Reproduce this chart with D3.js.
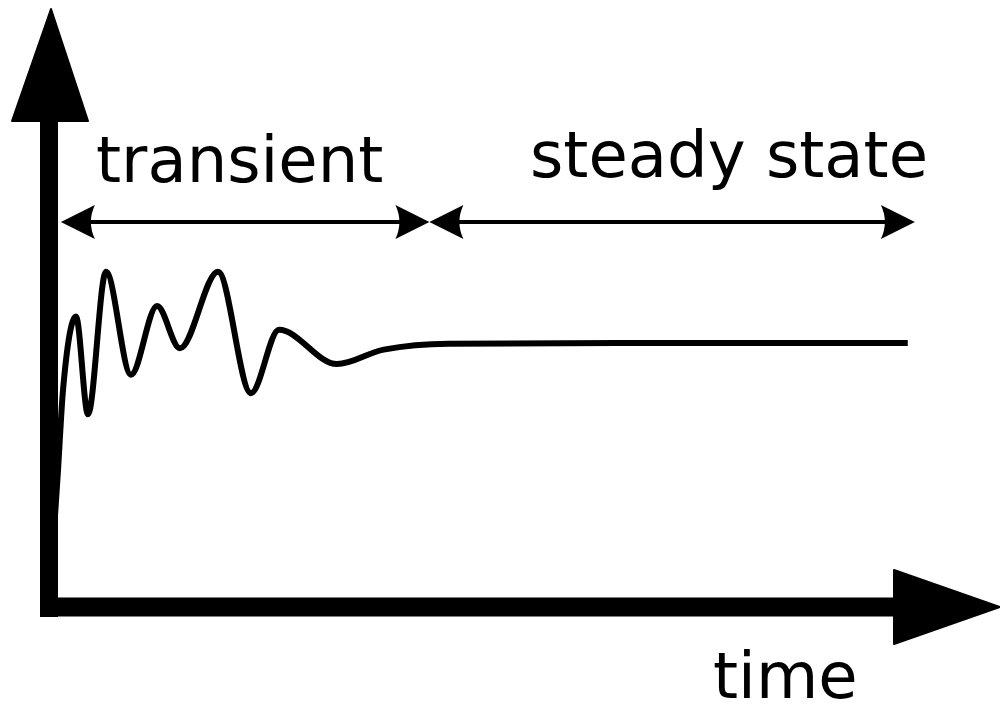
<!DOCTYPE html>
<html><head><meta charset="utf-8">
<script src="https://cdn.jsdelivr.net/npm/d3@7"></script>
<style>html,body{margin:0;padding:0;background:#fff;}svg{display:block;}</style>
</head><body>
<script>
// Data: step response (time units, normalized amplitude)
const times  = [0, 0.95, 1.47, 2.84, 4.10, 5.99, 8.62, 11.36, 13.77, 17.77, 21.24, 24.19, 30.28, 35.2, 42.0, 60.0, 90.3];
const values = [0, 0.52, 0.82, 1.10, 0.73, 1.27, 0.88, 1.14, 0.98, 1.27, 0.81, 1.05, 0.92, 0.975, 0.997, 1.0, 1.0];
const phases = ["transient", "steady state"];
const phaseBounds = [[1.25, 40.0], [40.0, 91.05]];
const axisLabel = "time";

const W = 1000, H = 704;
const svg = d3.select("body").append("svg").attr("width", W).attr("height", H);
const x = d3.scaleLinear().domain([0, 100]).range([49, 1000]);
const y = d3.scaleLinear().domain([0, 1]).range([607, 343]);

// response curve (drawn first, axis covers its start)
const line = d3.line().x((d, i) => x(times[i])).y(d => y(d)).curve(d3.curveMonotoneX);
svg.append("path").attr("d", line(values)).attr("fill", "none").attr("stroke", "#000")
  .attr("stroke-width", 6).attr("stroke-linejoin", "round");

// axes
svg.append("line").attr("x1", x(0)).attr("x2", x(0)).attr("y1", 118).attr("y2", y(0) + 10)
  .attr("stroke", "#000").attr("stroke-width", 18);
svg.append("line").attr("x1", x(0) - 9).attr("x2", 896).attr("y1", y(0)).attr("y2", y(0))
  .attr("stroke", "#000").attr("stroke-width", 19);
// arrowheads
svg.append("path").attr("d", `M${x(0)+2},9 L88,121 L12,121 Z`).attr("fill", "#000")
  .attr("stroke", "#000").attr("stroke-width", 2).attr("stroke-linejoin", "round");
svg.append("path").attr("d", `M${x(100)},${y(0)} L894,570 L894,644 Z`).attr("fill", "#000")
  .attr("stroke", "#000").attr("stroke-width", 2).attr("stroke-linejoin", "round");

// phase double arrows
const ay = 222;
function head(tx, dir) {
  const L = 34, h = 17, n = 26;
  return `M${tx},${ay} L${tx + dir*L},${ay-h} Q${tx + dir*n},${ay} ${tx + dir*L},${ay+h} Z`;
}
phaseBounds.forEach(([a, b]) => {
  const xa = x(a), xb = x(b);
  svg.append("line").attr("x1", xa + 20).attr("x2", xb - 20).attr("y1", ay).attr("y2", ay)
    .attr("stroke", "#000").attr("stroke-width", 4);
  svg.append("path").attr("d", head(xa, 1)).attr("fill", "#000");
  svg.append("path").attr("d", head(xb, -1)).attr("fill", "#000");
});

// labels
const font = "'DejaVu Sans', sans-serif";
svg.append("text").attr("x", 96).attr("y", 182).text(phases[0])
  .attr("font-family", font).attr("font-size", 64);
svg.append("text").attr("x", 530).attr("y", 177).text(phases[1])
  .attr("font-family", font).attr("font-size", 64);
svg.append("text").attr("x", 713).attr("y", 698).text(axisLabel)
  .attr("font-family", font).attr("font-size", 64);
</script>
</body></html>
